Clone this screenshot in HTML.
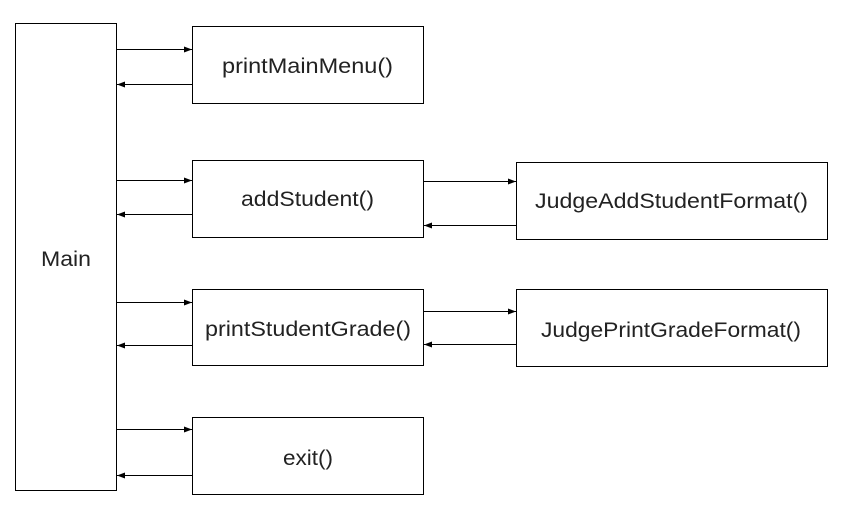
<!DOCTYPE html>
<html><head><meta charset="utf-8"><style>
html,body{margin:0;padding:0;background:#fff;width:849px;height:521px;overflow:hidden}
text{font-family:"Liberation Sans","Noto Sans CJK SC",sans-serif;font-size:21px;fill:#222}
</style></head><body>
<svg width="849" height="521" xmlns="http://www.w3.org/2000/svg">
<defs><marker id="a" markerWidth="8" markerHeight="8" refX="8" refY="4" orient="auto" markerUnits="userSpaceOnUse"><path d="M0,1 L8,4 L0,7 z" fill="#000"/></marker></defs>
<g fill="none" stroke="#000" stroke-width="1">
<rect x="15.5" y="23.5" width="101" height="467"/>
<rect x="192.5" y="26.5" width="231" height="77"/>
<rect x="192.5" y="160.5" width="231" height="77"/>
<rect x="192.5" y="289.5" width="231" height="76"/>
<rect x="192.5" y="417.5" width="231" height="77"/>
<rect x="516.5" y="162.5" width="311" height="77"/>
<rect x="516.5" y="289.5" width="311" height="77"/>
<g marker-end="url(#a)">
<line x1="117" y1="49.5" x2="192" y2="49.5"/>
<line x1="192" y1="84.5" x2="117" y2="84.5"/>
<line x1="117" y1="180.5" x2="192" y2="180.5"/>
<line x1="192" y1="214.5" x2="117" y2="214.5"/>
<line x1="117" y1="302.5" x2="192" y2="302.5"/>
<line x1="192" y1="345.5" x2="117" y2="345.5"/>
<line x1="117" y1="429.5" x2="192" y2="429.5"/>
<line x1="192" y1="475.5" x2="117" y2="475.5"/>
<line x1="424" y1="181.5" x2="516" y2="181.5"/>
<line x1="516" y1="225.5" x2="424" y2="225.5"/>
<line x1="424" y1="311.5" x2="516" y2="311.5"/>
<line x1="516" y1="344.5" x2="424" y2="344.5"/>
</g></g>
<g>
<text x="41" y="266" textLength="50" lengthAdjust="spacingAndGlyphs">Main</text>
<text x="222" y="73" textLength="171" lengthAdjust="spacingAndGlyphs">printMainMenu()</text>
<text x="241" y="206" textLength="133" lengthAdjust="spacingAndGlyphs">addStudent()</text>
<text x="205" y="336" textLength="206" lengthAdjust="spacingAndGlyphs">printStudentGrade()</text>
<text x="283" y="465" textLength="50" lengthAdjust="spacingAndGlyphs">exit()</text>
<text x="535" y="208" textLength="273" lengthAdjust="spacingAndGlyphs">JudgeAddStudentFormat()</text>
<text x="541" y="337" textLength="260" lengthAdjust="spacingAndGlyphs">JudgePrintGradeFormat()</text>
</g>
</svg>
</body></html>
